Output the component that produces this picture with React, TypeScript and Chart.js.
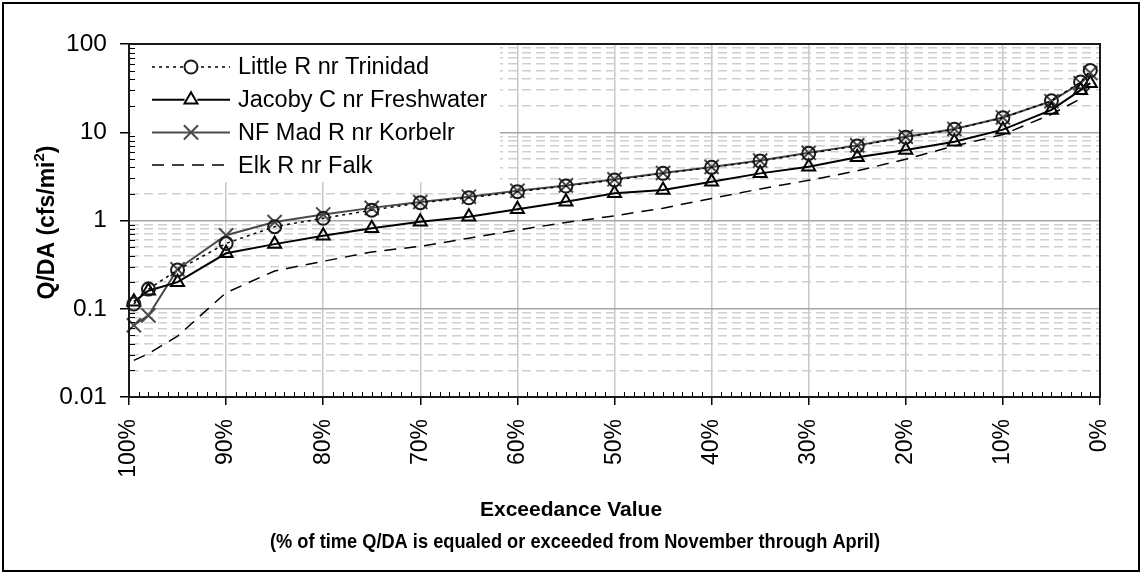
import React, { useEffect, useRef } from 'react';
import { Chart, registerables } from 'chart.js';

Chart.register(...registerables);

const FONT = "'Liberation Sans', Arial, Helvetica, sans-serif";

// ---- data ----
const exceedance = [99.5, 98, 95, 90, 85, 80, 75, 70, 65, 60, 55, 50, 45, 40, 35, 30, 25, 20, 15, 10, 5, 2, 1];
const littleR = [0.113, 0.167, 0.275, 0.55, 0.85, 1.06, 1.31, 1.59, 1.81, 2.12, 2.46, 2.88, 3.42, 4.0, 4.72, 5.77, 7.0, 8.8, 10.8, 14.6, 22.7, 37, 50];
const jacobyC = [0.12, 0.16, 0.2, 0.425, 0.54, 0.67, 0.815, 0.97, 1.1, 1.34, 1.63, 2.03, 2.22, 2.75, 3.42, 4.07, 5.2, 6.3, 7.8, 10.7, 17.9, 30, 36];
const nfMad = [0.065, 0.084, 0.28, 0.68, 0.96, 1.17, 1.39, 1.62, 1.86, 2.17, 2.5, 2.93, 3.46, 4.05, 4.78, 5.85, 7.1, 8.9, 10.9, 14.7, 22.5, 36, 47];
const elkR = [0.026, 0.031, 0.049, 0.152, 0.268, 0.345, 0.44, 0.51, 0.63, 0.78, 0.95, 1.13, 1.38, 1.78, 2.28, 2.85, 3.65, 4.95, 7.0, 9.4, 16, 24, 33];

const seriesNames = ['Little R nr Trinidad', 'Jacoby C nr Freshwater', 'NF Mad R nr Korbelr', 'Elk R nr Falk'];
const yDecades = [0.01, 0.1, 1, 10, 100];
const yTickLabels = ['0.01', '0.1', '1', '10', '100'];
const xTickValues = [100, 90, 80, 70, 60, 50, 40, 30, 20, 10, 0];
const xTitleLines = ['Exceedance Value', '(% of time Q/DA is equaled or exceeded from November through April)'];
const yTitleMain = 'Q/DA (cfs/mi';
const yTitleSup = '2';
const yTitleEnd = ')';

const toPoints = (ys: number[]) => ys.map((y, i) => ({ x: exceedance[i], y }));

const isDecade = (v: number) => Math.abs(Math.log10(v) - Math.round(Math.log10(v))) < 1e-9;

function drawMarker(ctx: CanvasRenderingContext2D, style: string, x: number, y: number, r: number) {
  ctx.beginPath();
  if (style === 'circle') {
    ctx.arc(x, y, r, 0, Math.PI * 2);
  } else if (style === 'triangle') {
    let rad = 0;
    ctx.moveTo(x + Math.sin(rad) * r, y - Math.cos(rad) * r);
    rad += (2 * Math.PI) / 3;
    ctx.lineTo(x + Math.sin(rad) * r, y - Math.cos(rad) * r);
    rad += (2 * Math.PI) / 3;
    ctx.lineTo(x + Math.sin(rad) * r, y - Math.cos(rad) * r);
    ctx.closePath();
  } else if (style === 'crossRot') {
    const o = Math.cos(Math.PI / 4) * r;
    ctx.moveTo(x - o, y - o);
    ctx.lineTo(x + o, y + o);
    ctx.moveTo(x + o, y - o);
    ctx.lineTo(x - o, y + o);
  } else {
    return;
  }
  ctx.stroke();
}

function fillFitted(ctx: CanvasRenderingContext2D, text: string, cx: number, cy: number, maxW: number) {
  const w = ctx.measureText(text).width;
  const s = w > maxW ? maxW / w : 1;
  ctx.save();
  ctx.translate(cx, cy);
  ctx.scale(s, 1);
  ctx.fillText(text, 0, 0);
  ctx.restore();
}

const decorPlugin = {
  id: 'decor',
  beforeDatasetsDraw(chart: any) {
    const ctx = chart.ctx as CanvasRenderingContext2D;
    const area = chart.chartArea;
    // legend box
    ctx.save();
    ctx.fillStyle = '#ffffff';
    ctx.fillRect(area.left + 2, area.top + 1, 369, 137);
    const rowY0 = area.top + 23;
    const rowStep = 32.7;
    chart.data.datasets.forEach((ds: any, i: number) => {
      const y = rowY0 + i * rowStep;
      const x0 = area.left + 23;
      const x1 = area.left + 101;
      ctx.save();
      ctx.strokeStyle = ds.borderColor;
      ctx.lineWidth = ds.borderWidth;
      ctx.setLineDash(ds.borderDash || []);
      ctx.beginPath();
      ctx.moveTo(x0, y);
      ctx.lineTo(x1, y);
      ctx.stroke();
      ctx.setLineDash([]);
      if (ds.pointRadius > 0) {
        ctx.strokeStyle = ds.pointBorderColor;
        ctx.lineWidth = ds.pointBorderWidth;
        if (ds.pointStyle === 'circle' || ds.pointStyle === 'triangle') {
          ctx.fillStyle = '#ffffff';
          ctx.beginPath();
          ctx.arc((x0 + x1) / 2, y, ds.pointRadius - 1, 0, Math.PI * 2);
          ctx.fill();
        }
        drawMarker(ctx, ds.pointStyle, (x0 + x1) / 2, y, ds.pointRadius);
      }
      ctx.restore();
      ctx.fillStyle = '#000000';
      ctx.font = `23.5px ${FONT}`;
      ctx.textBaseline = 'middle';
      ctx.textAlign = 'left';
      ctx.fillText(ds.label, area.left + 109, y + 1);
    });
    ctx.restore();
  },
  afterDatasetsDraw(chart: any) {
    const ctx = chart.ctx as CanvasRenderingContext2D;
    const area = chart.chartArea;
    const xs = chart.scales.x;
    const ys = chart.scales.y;
    ctx.save();
    ctx.strokeStyle = '#000000';
    ctx.lineWidth = 1;
    ctx.beginPath();
    for (let d = 0; d < yDecades.length - 1; d++) {
      for (let k = 2; k <= 9; k++) {
        const py = Math.round(ys.getPixelForValue(yDecades[d] * k)) + 0.5;
        ctx.moveTo(area.left, py);
        ctx.lineTo(area.left + 6, py);
      }
    }
    for (let p = 1; p < 100; p++) {
      if (p % 10 === 0) continue;
      const px = Math.round(xs.getPixelForValue(p)) + 0.5;
      ctx.moveTo(px, area.bottom);
      ctx.lineTo(px, area.bottom - 5);
    }
    ctx.stroke();
    ctx.lineWidth = 2;
    ctx.strokeStyle = '#1a1a1a';
    ctx.strokeRect(area.left, area.top, area.right - area.left, area.bottom - area.top);
    ctx.restore();
  },
  afterDraw(chart: any) {
    const ctx = chart.ctx as CanvasRenderingContext2D;
    const area = chart.chartArea;
    ctx.save();
    ctx.strokeStyle = '#000000';
    ctx.lineWidth = 2;
    ctx.strokeRect(3, 3, chart.width - 6, chart.height - 5);
    // x title
    ctx.fillStyle = '#000000';
    ctx.textAlign = 'center';
    ctx.textBaseline = 'middle';
    ctx.font = `bold 21px ${FONT}`;
    fillFitted(ctx, xTitleLines[0], chart.width / 2, 510, 184);
    fillFitted(ctx, xTitleLines[1], chart.width / 2 + 4, 542, 610);
    // y title (rotated with superscript)
    ctx.translate(48, (area.top + area.bottom) / 2 + 2);
    ctx.rotate(-Math.PI / 2);
    ctx.font = `bold 23px ${FONT}`;
    const w1 = ctx.measureText(yTitleMain).width;
    const w3 = ctx.measureText(yTitleEnd).width;
    ctx.font = `bold 15px ${FONT}`;
    const w2 = ctx.measureText(yTitleSup).width;
    let x = -(w1 + w2 + w3) / 2;
    ctx.textAlign = 'left';
    ctx.font = `bold 23px ${FONT}`;
    ctx.fillText(yTitleMain, x, 0);
    x += w1;
    ctx.font = `bold 15px ${FONT}`;
    ctx.fillText(yTitleSup, x, -8);
    x += w2;
    ctx.font = `bold 23px ${FONT}`;
    ctx.fillText(yTitleEnd, x, 0);
    ctx.restore();
  },
};

export default function App() {
  const canvasRef = useRef<HTMLCanvasElement | null>(null);

  useEffect(() => {
    if (!canvasRef.current) return;
    const chart = new Chart(canvasRef.current, {
      type: 'line',
      data: {
        datasets: [
          {
            label: seriesNames[0],
            data: toPoints(littleR),
            borderColor: '#000000',
            borderWidth: 1.5,
            borderDash: [3, 4],
            pointStyle: 'circle',
            pointRadius: 6.5,
            pointBorderWidth: 2,
            pointBorderColor: '#1a1a1a',
            pointBackgroundColor: 'rgba(0,0,0,0)',
            tension: 0,
            clip: false,
          },
          {
            label: seriesNames[1],
            data: toPoints(jacobyC),
            borderColor: '#000000',
            borderWidth: 2,
            borderDash: [],
            pointStyle: 'triangle',
            pointRadius: 7.5,
            pointBorderWidth: 2,
            pointBorderColor: '#000000',
            pointBackgroundColor: 'rgba(0,0,0,0)',
            tension: 0,
            clip: false,
          },
          {
            label: seriesNames[2],
            data: toPoints(nfMad),
            borderColor: '#4a4a4a',
            borderWidth: 2,
            borderDash: [],
            pointStyle: 'crossRot',
            pointRadius: 10,
            pointBorderWidth: 2,
            pointBorderColor: '#4a4a4a',
            pointBackgroundColor: 'rgba(0,0,0,0)',
            tension: 0,
            clip: false,
          },
          {
            label: seriesNames[3],
            data: toPoints(elkR),
            borderColor: '#000000',
            borderWidth: 1.5,
            borderDash: [12, 8],
            pointStyle: 'circle',
            pointRadius: 0,
            pointHoverRadius: 0,
            pointBorderWidth: 0,
            pointBorderColor: '#000000',
            tension: 0,
            clip: false,
          },
        ],
      },
      options: {
        animation: false,
        responsive: false,
        devicePixelRatio: 1,
        layout: { padding: { left: 0, top: 44, right: 42, bottom: 0 } },
        plugins: {
          legend: { display: false },
          tooltip: { enabled: false },
          title: { display: false },
        },
        events: [],
        scales: {
          x: {
            type: 'linear',
            reverse: true,
            min: 0,
            max: 100,
            afterBuildTicks: (scale: any) => {
              scale.ticks = xTickValues.map((v) => ({ value: v }));
            },
            afterFit: (scale: any) => {
              scale.height = 176;
            },
            ticks: {
              autoSkip: false,
              maxRotation: 90,
              minRotation: 90,
              padding: 14,
              color: '#000000',
              font: { family: FONT, size: 23 },
              callback: (v: any) => `${v}%`,
            },
            grid: {
              color: '#c8c8c8',
              lineWidth: 1.5,
              tickColor: '#000000',
              tickLength: 8,
              tickWidth: 1.5,
            },
            border: { display: true, color: '#000000', width: 2 },
          },
          y: {
            type: 'logarithmic',
            min: 0.01,
            max: 100,
            afterBuildTicks: (scale: any) => {
              const t: any[] = [];
              for (let d = 0; d < yDecades.length - 1; d++) {
                for (let k = 1; k <= 9; k++) t.push({ value: yDecades[d] * k, major: k === 1 });
              }
              t.push({ value: yDecades[yDecades.length - 1], major: true });
              scale.ticks = t;
            },
            afterFit: (scale: any) => {
              scale.width = 129;
            },
            ticks: {
              autoSkip: false,
              padding: 13,
              color: '#000000',
              font: { family: FONT, size: 24.5 },
              callback: (v: any) => {
                const n = Number(v);
                if (!isDecade(n)) return '';
                const idx = yDecades.findIndex((d) => Math.abs(d - n) / d < 1e-6);
                return idx >= 0 ? yTickLabels[idx] : '';
              },
            },
            grid: {
              color: (c: any) => (c.tick && isDecade(c.tick.value) ? '#a6a6a6' : '#cfcfcf'),
              lineWidth: 1.5,
              tickColor: (c: any) => (c.tick && isDecade(c.tick.value) ? '#000000' : 'rgba(0,0,0,0)'),
              tickLength: 9,
              tickWidth: 1.5,
            },
            border: {
              display: true,
              color: '#000000',
              width: 2,
              dash: (c: any) => (c.tick && !isDecade(c.tick.value) ? [9, 5] : []),
            },
          },
        },
      },
      plugins: [decorPlugin],
    } as any);
    return () => chart.destroy();
  }, []);

  return (
    <div style={{ position: 'absolute', left: 0, top: 0, width: 1142, height: 573, background: '#ffffff' }}>
      <canvas ref={canvasRef} width={1142} height={573} style={{ display: 'block' }} />
    </div>
  );
}
